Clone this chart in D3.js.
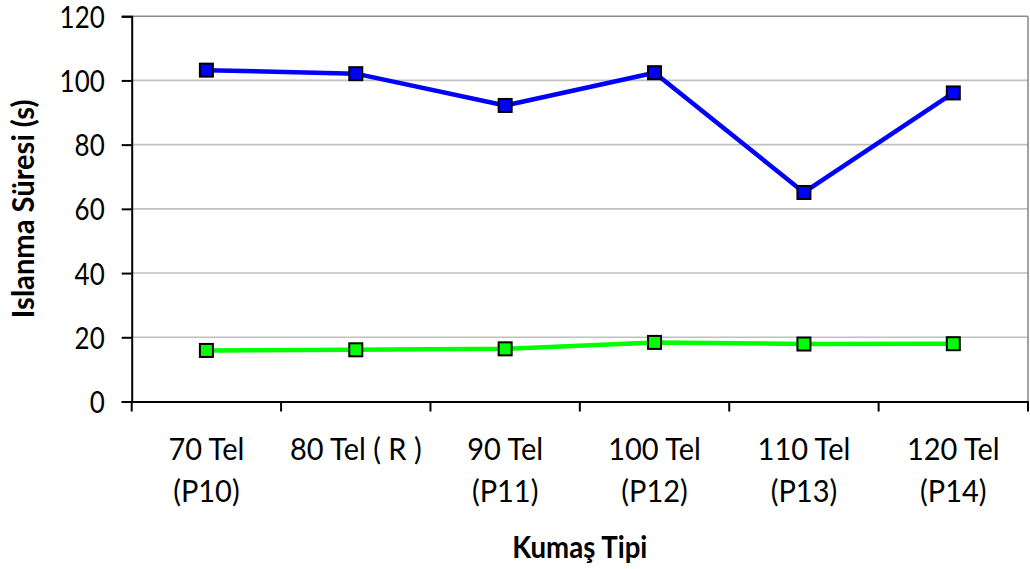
<!DOCTYPE html>
<html>
<head>
<meta charset="utf-8">
<script src="https://cdn.jsdelivr.net/npm/d3@7"></script>
<style>
  html, body { margin: 0; padding: 0; background: #ffffff; }
  svg { display: block; }
  text { font-family: Lato, "Open Sans", sans-serif; fill: #000; }
</style>
</head>
<body>
<svg id="chart" width="1030" height="569"></svg>
<script>
// ---- data ----
const categories = ["70 Tel|(P10)", "80 Tel ( R )", "90 Tel|(P11)", "100 Tel|(P12)", "110 Tel|(P13)", "120 Tel|(P14)"];
const seriesBlue = [103.2, 102.1, 92.2, 102.4, 65.1, 96.1];
const seriesGreen = [15.9, 16.1, 16.4, 18.4, 17.9, 18.0];
const yTicks = [0, 20, 40, 60, 80, 100, 120];
const yTitle = "Islanma Süresi (s)";
const xTitle = "Kumaş Tipi";

// ---- layout ----
const svg = d3.select("#chart");
const pLeft = 131.7, pRight = 1028, pTop = 16.2, pBottom = 401.5;

const x = d3.scaleBand().domain(categories).range([pLeft, pRight]).padding(0);
const y = d3.scaleLinear().domain([0, 120]).range([pBottom, pTop]);

function squeeze(sel, factor) {
  sel.each(function () {
    const el = this;
    const w = el.getComputedTextLength();
    el.setAttribute("textLength", (w * factor).toFixed(2));
    el.setAttribute("lengthAdjust", "spacingAndGlyphs");
  });
}

// gridlines
svg.append("g").selectAll("line")
  .data(yTicks.filter(t => t > 0 && t < 120))
  .join("line")
  .attr("x1", pLeft).attr("x2", pRight)
  .attr("y1", d => y(d)).attr("y2", d => y(d))
  .attr("stroke", "#c0c0c0").attr("stroke-width", 1.6);

// plot area border (top/right)
svg.append("line").attr("x1", pLeft).attr("x2", pRight).attr("y1", y(120)).attr("y2", y(120))
  .attr("stroke", "#8c8c8c").attr("stroke-width", 1.6);
svg.append("line").attr("x1", pRight).attr("x2", pRight).attr("y1", y(120)).attr("y2", y(0))
  .attr("stroke", "#8c8c8c").attr("stroke-width", 1.6);

// y axis
const yAxis = svg.append("g").attr("transform", `translate(${pLeft},0)`)
  .call(d3.axisLeft(y).tickValues(yTicks).tickSize(10).tickPadding(17).tickFormat(d3.format("d")));
yAxis.select(".domain").attr("stroke", "#000").attr("stroke-width", 2);
yAxis.selectAll(".tick line").attr("stroke", "#000").attr("stroke-width", 2);
yAxis.selectAll(".tick text").attr("font-family", "Lato").attr("font-size", 30.5).attr("fill", "#000").attr("dy", "0.36em");
squeeze(yAxis.selectAll(".tick text"), 0.85);

// x axis
const xAxis = svg.append("g").attr("transform", `translate(0,${pBottom})`)
  .call(d3.axisBottom(x).tickSize(0).tickFormat(""));
xAxis.select(".domain").attr("stroke", "#000").attr("stroke-width", 2);
xAxis.selectAll(".tick line").remove();
// tick marks at category boundaries
const bounds = categories.map(c => x(c)).concat([pRight]);
xAxis.selectAll("line.bound").data(bounds).join("line").attr("class", "bound")
  .attr("x1", d => d).attr("x2", d => d).attr("y1", 0).attr("y2", 10)
  .attr("stroke", "#000").attr("stroke-width", 2);

// category labels
const catLabels = svg.append("g").selectAll("text").data(categories).join("text")
  .attr("text-anchor", "middle")
  .attr("font-family", "Lato").attr("font-size", 30.5)
  .attr("transform", d => `translate(${x(d) + x.bandwidth() / 2},0)`);
catLabels.each(function (d) {
  const parts = d.split("|");
  const t = d3.select(this);
  parts.forEach((p, i) => {
    t.append("tspan").attr("x", 0).attr("y", 460 + i * 42).text(p);
  });
});
squeeze(catLabels.selectAll("tspan"), 0.95);

// axis titles
const yt = svg.append("text")
  .attr("transform", `translate(34,${(pTop + pBottom) / 2}) rotate(-90)`)
  .attr("text-anchor", "middle").attr("font-weight", "bold")
  .attr("font-family", "Lato").attr("font-size", 30).text(yTitle);
squeeze(yt, 0.97);
const xt = svg.append("text")
  .attr("x", (pLeft + pRight) / 2).attr("y", 558)
  .attr("text-anchor", "middle").attr("font-weight", "bold")
  .attr("font-family", "Lato").attr("font-size", 30).text(xTitle);
squeeze(xt, 0.92);

// series
const cx = (d, i) => x(categories[i]) + x.bandwidth() / 2;
const line = d3.line().x((d, i) => cx(d, i)).y(d => y(d));
const series = [
  { values: seriesBlue, color: "#0000ff" },
  { values: seriesGreen, color: "#00ff00" }
];
series.forEach(s => {
  svg.append("path").datum(s.values).attr("d", line)
    .attr("fill", "none").attr("stroke", s.color).attr("stroke-width", 4.5)
    .attr("stroke-linejoin", "round");
  svg.append("g").selectAll("rect").data(s.values).join("rect")
    .attr("x", (d, i) => cx(d, i) - 6.5).attr("y", d => y(d) - 6.5)
    .attr("width", 13).attr("height", 13)
    .attr("fill", s.color).attr("stroke", "#000").attr("stroke-width", 2);
});
</script>
</body>
</html>
